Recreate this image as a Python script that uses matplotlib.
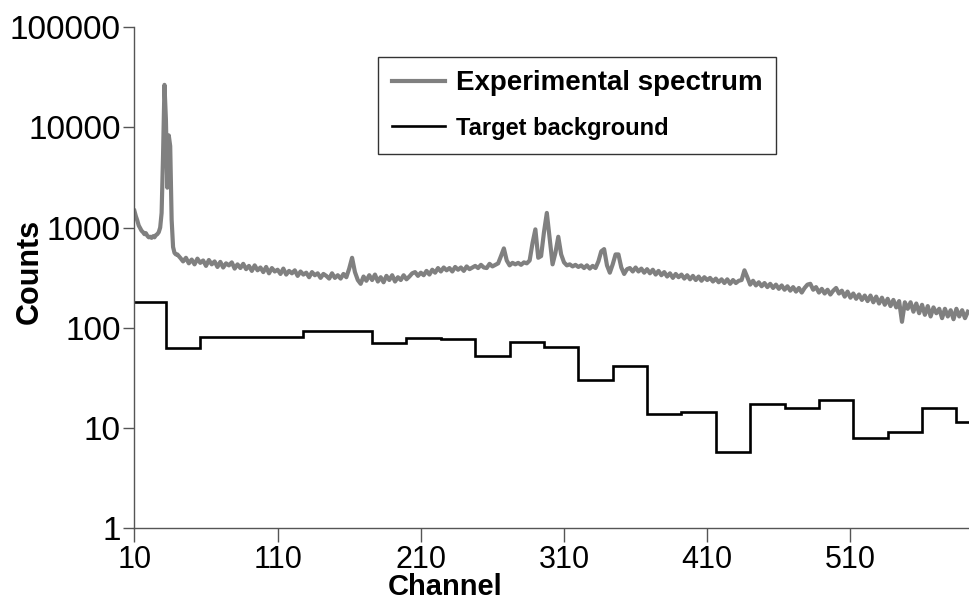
import numpy as np
import matplotlib
matplotlib.use("Agg")
import matplotlib.pyplot as plt

plt.rcParams['font.family'] = ['Liberation Sans', 'DejaVu Sans']

# Experimental spectrum: per channel near the main peak, every 2nd channel elsewhere
spec_channel = list(range(10, 40)) + list(range(40, 594, 2))
spec_counts = [
    # 10-39 (per channel)
    1470, 1300, 1180, 1050, 990, 930, 900, 860, 880, 830,
    800, 810, 790, 820, 800, 840, 860, 900, 1000, 1400,
    5200, 26500, 12000, 2500, 8300, 6500, 1200, 640, 560, 540,
    # 40-150
    540, 500, 460, 500, 440, 480, 430, 490, 445, 470,
    415, 475, 430, 460, 405, 455, 400, 440, 420, 450,
    390, 430, 395, 435, 385, 415, 370, 420, 375, 400,
    360, 405, 350, 395, 365, 380, 345, 390, 340, 370,
    350, 375, 330, 365, 340, 355, 320, 360, 335, 350,
    315, 345, 330, 310, 350, 315,
    # 152-260
    335, 310, 345, 320, 390, 500, 360, 300, 275, 325,
    295, 335, 300, 340, 290, 320, 285, 330, 300, 335,
    290, 320, 300, 335, 305, 325, 350, 360, 330, 355,
    335, 370, 340, 380, 355, 395, 365, 400, 375, 395,
    365, 405, 380, 400, 370, 410, 385, 400, 415, 395,
    425, 400, 395, 435, 410,
    # 262-320
    425, 440, 520, 620, 470, 420, 445, 430, 445, 425,
    450, 440, 470, 700, 960, 500, 520, 900, 1400, 780,
    430, 560, 810, 540, 450, 420, 430, 410, 425, 405,
    # 322-420
    420, 395, 420, 390, 415, 395, 460, 580, 610, 420,
    355, 430, 540, 540, 400, 345, 385, 395, 365, 400,
    365, 390, 355, 385, 350, 380, 340, 370, 335, 360,
    325, 350, 315, 345, 320, 340, 310, 335, 305, 330,
    300, 325, 295, 320, 300, 315, 290, 310, 285, 305,
    # 422-592
    280, 305, 275, 300, 280, 295, 300, 375, 320, 270,
    295, 265, 285, 260, 280, 255, 275, 250, 270, 245,
    265, 240, 260, 235, 255, 230, 250, 225, 250, 270,
    275, 240, 255, 225, 245, 220, 240, 215, 235, 250,
    220, 235, 205, 230, 200, 220, 195, 215, 190, 210,
    185, 210, 180, 205, 175, 200, 170, 195, 165, 190,
    160, 185, 115, 180, 155, 180, 145, 175, 140, 170,
    135, 165, 130, 160, 140, 155, 125, 155, 130, 150,
    122, 155, 130, 150, 125, 145,
]

# Target background: step levels over 24-channel bins
bg_edges = [10, 32, 56, 80, 104, 128, 152, 176, 200, 224, 248, 272, 296,
            320, 344, 368, 392, 416, 440, 464, 488, 512, 536, 560, 584, 608]
bg_counts = [181, 63, 81, 81, 82, 94, 94, 71, 80, 78, 52.5, 72, 64.5,
             30, 42, 13.8, 14.6, 5.75, 17.5, 15.8, 19.1, 7.9, 9.1, 15.8, 11.4]

x_ticks = [10, 110, 210, 310, 410, 510]
y_ticks = [1, 10, 100, 1000, 10000, 100000]

fig = plt.figure(figsize=(9.69, 6.08), dpi=100)
ax = fig.add_axes([0.1387, 0.1308, 0.8613, 0.8248])

ax.plot(spec_channel, spec_counts, color="#808080", lw=3.0,
        label="Experimental spectrum")
ax.stairs(bg_counts, bg_edges, baseline=None, color="black", lw=1.9,
          label="Target background")

ax.set_yscale("log")
ax.set_xlim(10, 592.8)
ax.set_ylim(1, 100000)
ax.set_yticks(y_ticks)
ax.set_yticklabels([str(v) for v in y_ticks])
ax.minorticks_off()
ax.set_xticks(x_ticks)
ax.set_xticklabels([str(v) for v in x_ticks])

for s in ["top", "right"]:
    ax.spines[s].set_visible(False)
for s in ["left", "bottom"]:
    ax.spines[s].set_color("#555555")
    ax.spines[s].set_linewidth(1.0)

ax.tick_params(axis="y", labelsize=24, length=8, width=1, color="#555555", pad=2)
ax.tick_params(axis="x", labelsize=22, length=10, width=1, color="#555555", pad=2)

ax.set_xlabel("Channel", fontsize=21, fontweight="bold")
ax.xaxis.set_label_coords(0.372, -0.088)
ax.set_ylabel("Counts", fontsize=22, fontweight="bold", va="center")
ax.yaxis.set_label_coords(-0.125, 0.512)

leg = ax.legend(loc="upper left", bbox_to_anchor=(0.292, 0.941), frameon=True,
                fancybox=False, edgecolor="black", borderaxespad=0,
                handlelength=1.9, handletextpad=0.4, borderpad=0.5,
                labelspacing=0.7, prop={"weight": "bold", "size": 20})
leg.get_frame().set_linewidth(1.0)
leg.get_texts()[1].set_fontsize(17)

fig.savefig("out.png", dpi=100)
